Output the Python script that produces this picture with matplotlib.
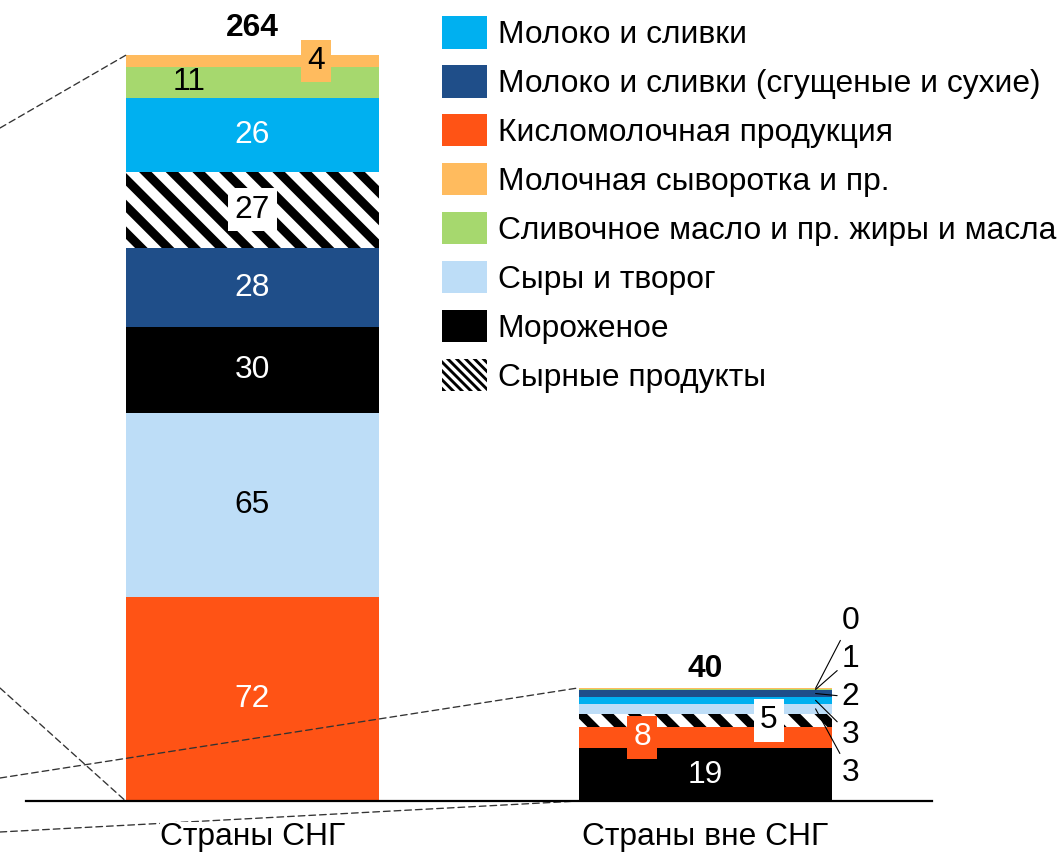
import numpy as np
import matplotlib
matplotlib.use('Agg')
import matplotlib.pyplot as plt
from matplotlib.patches import Patch, ConnectionPatch

# данные
categories = ['Страны СНГ', 'Страны вне СНГ']
series = ['Молоко и сливки',
          'Молоко и сливки (сгущеные и сухие)',
          'Кисломолочная продукция',
          'Молочная сыворотка и пр.',
          'Сливочное масло и пр. жиры и масла',
          'Сыры и творог',
          'Мороженое',
          'Сырные продукты']
cis_values = [26, 28, 72, 4, 11, 65, 30, 27]
noncis_values = [2.6, 2.2, 7.6, 0.3, 0.6, 3.4, 18.6, 4.6]
totals = [264, 40]

colors = ['#00B0F0', '#1F4E89', '#FF5315', '#FFBB5E', '#A6D86E', '#BDDDF7', '#000000', '#FFFFFF']
text_colors = ['white', 'white', 'white', 'black', 'black', 'black', 'white', 'black']
HATCHED = 'Сырные продукты'

plt.rcParams['font.family'] = ['Liberation Sans', 'DejaVu Sans']
plt.rcParams['hatch.linewidth'] = 4.0
FS = 14.3

fig = plt.figure(figsize=(1064 / 160, 857 / 160), dpi=160)
ax = fig.add_axes([26 / 1064, 56 / 857, 906 / 1064, 801 / 857])
ax.set_xlim(-0.5, 1.5)
ax.set_ylim(0, 282.5)

width = 0.56
# смещения подписей внутри столбцов (по горизонтали)
label_dx = {(0, 'Молочная сыворотка и пр.'): 0.14,
            (0, 'Сливочное масло и пр. жиры и масла'): -0.14,
            (1, 'Кисломолочная продукция'): -0.14,
            (1, HATCHED): 0.14}
boxed = {(0, 'Молочная сыворотка и пр.'), (1, 'Кисломолочная продукция')}

all_values = [cis_values, noncis_values]
callouts = []
for i, vals in enumerate(all_values):
    order = sorted(range(len(series)), key=lambda k: -vals[k])
    bottom = 0
    for k in order:
        v = vals[k]
        name = series[k]
        ax.bar(i, v, width, bottom=bottom, color=colors[k], linewidth=0,
               hatch='\\\\' if name == HATCHED else None, zorder=1)
        mid = bottom + v / 2
        if v < 4:
            callouts.append((i, mid, f'{v:.0f}'))
        else:
            bbox = None
            if name == HATCHED:
                bbox = dict(boxstyle='square,pad=0.2', facecolor='white', edgecolor='none')
            elif (i, name) in boxed:
                bbox = dict(boxstyle='square,pad=0.2', facecolor=colors[k], edgecolor='none')
            ax.text(i + label_dx.get((i, name), 0), mid, f'{v:.0f}', ha='center', va='center',
                    color=text_colors[k], fontsize=FS, bbox=bbox, zorder=3)
        bottom += v
    top = bottom
    pad = 8.6 if i == 0 else 5
    ax.annotate(str(totals[i]), (i, top), xytext=(0, pad), textcoords='offset points',
                ha='center', va='baseline', fontsize=FS, fontweight='bold')

# выноски для мелких сегментов (сверху вниз)
callouts = callouts[::-1]
for j, (i, mid, txt) in enumerate(callouts):
    ly = 9.9 + 13.4 * (len(callouts) - 1 - j)
    ax.annotate(txt, xy=(i + 0.243, mid), xytext=(i + 0.32, ly), ha='center', va='center',
                fontsize=FS, annotation_clip=False,
                arrowprops=dict(arrowstyle='-', lw=0.5, color='black', shrinkA=0, shrinkB=0))

# пунктирные линии к левой части исходной схемы
left_top = sum(cis_values)
right_top = sum(noncis_values)
connectors = [(1 - 128 / 857, (0 - width / 2, left_top)),
              (1 - 688 / 857, (0 - width / 2, 0)),
              (1 - 778 / 857, (1 - width / 2, right_top)),
              (1 - 832 / 857, (1 - width / 2, 0))]
for fy, xy in connectors:
    con = ConnectionPatch(xyA=(0, fy), coordsA='figure fraction', xyB=xy, coordsB='data',
                          axesA=ax, axesB=ax, arrowstyle='-', color='#333333', lw=0.6,
                          linestyle=(0, (5, 3)), zorder=1.2, clip_on=False)
    ax.add_artist(con)

for s in ['top', 'right', 'left']:
    ax.spines[s].set_visible(False)
ax.spines['bottom'].set_linewidth(1.0)
ax.spines['bottom'].set_color('black')
ax.set_yticks([])
ax.set_xticks([0, 1], categories)
ax.tick_params(axis='x', length=0, pad=9.5, labelsize=FS)
for lbl in ax.get_xticklabels():
    lbl.set_bbox(dict(facecolor='white', edgecolor='none', pad=0))
ax.patch.set_visible(False)

# легенда (более частая и тонкая штриховка)
plt.rcParams['hatch.linewidth'] = 1.3
handles = []
for k, name in enumerate(series):
    if name == HATCHED:
        h = Patch(facecolor='white', hatch='\\\\\\\\\\\\', linewidth=0)
    else:
        h = Patch(facecolor=colors[k], linewidth=0)
    handles.append(h)
fig.legend(handles, series, loc='upper left', bbox_to_anchor=(442 / 1064, 1 - 16 / 857),
           frameon=False, borderpad=0, borderaxespad=0, handlelength=1.42, handleheight=1.2,
           handletextpad=0.33, labelspacing=0.47, fontsize=FS)

fig.savefig('out.png', dpi=160)
